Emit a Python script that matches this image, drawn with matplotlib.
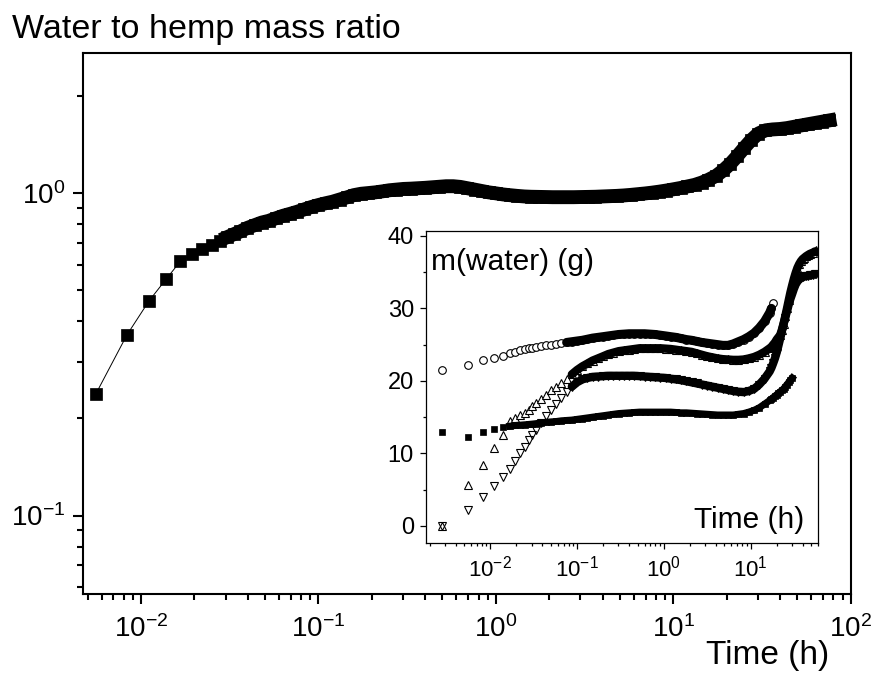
import matplotlib
matplotlib.use("Agg")
import matplotlib.pyplot as plt
from matplotlib.ticker import LogLocator, MultipleLocator, NullFormatter

plt.rcParams['font.family'] = ['Liberation Sans', 'DejaVu Sans']
plt.rcParams['mathtext.fontset'] = 'custom'
plt.rcParams['mathtext.rm'] = 'Liberation Sans'
plt.rcParams['mathtext.it'] = 'Liberation Sans:italic'
plt.rcParams['mathtext.bf'] = 'Liberation Sans:bold'
plt.rcParams['axes.unicode_minus'] = False

# ---------------- main plot data: water to hemp mass ratio ----------------
main_time = [0.00556, 0.00833, 0.0111, 0.0139, 0.0167, 0.0194, 0.0222, 0.025, 0.0278, 0.0306, 0.0333,
             0.0363, 0.0398, 0.0437, 0.0479, 0.0525, 0.0575, 0.0631, 0.0692, 0.0759, 0.0832, 0.0912,
             0.1, 0.110, 0.120, 0.132, 0.145, 0.158, 0.174, 0.191, 0.209, 0.229, 0.251, 0.275, 0.302,
             0.331, 0.363, 0.398, 0.437, 0.479, 0.525, 0.575, 0.631, 0.692, 0.759, 0.832, 0.912,
             1.0, 1.10, 1.20, 1.32, 1.45, 1.58, 1.74, 1.91, 2.09, 2.29, 2.51, 2.75, 3.02, 3.31, 3.63,
             3.98, 4.37, 4.79, 5.25, 5.75, 6.31, 6.92, 7.59, 8.32, 9.12, 10.0, 11.0, 12.0, 13.2, 14.5,
             15.8, 17.4, 19.1, 20.9, 22.9, 25.1, 27.5, 30.2, 33.1, 36.3, 39.8, 43.7, 47.9, 52.5, 57.5,
             63.1, 69.2, 75.9]
main_ratio = [0.238, 0.363, 0.463, 0.542, 0.615, 0.647, 0.67, 0.69, 0.71, 0.73, 0.745,
              0.76, 0.78, 0.795, 0.81, 0.82, 0.835, 0.85, 0.862, 0.875, 0.89, 0.905,
              0.918, 0.93, 0.94, 0.955, 0.97, 0.985, 0.995, 1.0, 1.005, 1.012, 1.02, 1.025, 1.03,
              1.032, 1.035, 1.038, 1.042, 1.046, 1.05, 1.05, 1.045, 1.035, 1.025, 1.015, 1.005,
              0.998, 0.99, 0.985, 0.98, 0.976, 0.974, 0.973, 0.972, 0.971, 0.971, 0.971, 0.971, 0.972, 0.973, 0.974,
              0.976, 0.978, 0.98, 0.983, 0.987, 0.992, 0.997, 1.003, 1.01, 1.018, 1.027, 1.037, 1.048, 1.06, 1.078,
              1.10, 1.13, 1.175, 1.23, 1.30, 1.38, 1.46, 1.53, 1.565, 1.575, 1.58, 1.59, 1.605, 1.62, 1.635,
              1.65, 1.665, 1.68]

# ---------------- inset data: m(water) (g) ----------------
inset_time = [0.00278, 0.00556, 0.00833, 0.0111, 0.0139, 0.0167, 0.0194, 0.0222, 0.025, 0.0278, 0.0306, 0.0333,
              0.038, 0.0437, 0.0501, 0.0575, 0.0661, 0.0759, 0.0871, 0.1, 0.115, 0.132, 0.151, 0.174, 0.2,
              0.229, 0.263, 0.302, 0.347, 0.398, 0.457, 0.525, 0.603, 0.692, 0.794, 0.912, 1.05, 1.20, 1.38,
              1.58, 1.82, 2.09, 2.40, 2.75, 3.16, 3.63, 4.17, 4.79, 5.50, 6.31, 7.24, 8.32, 9.55, 11.0, 12.6,
              14.5, 16.6, 17.4, 18.2, 19.1, 20.0, 20.9, 21.9, 22.9, 24.0, 25.1, 26.3, 27.5, 28.8, 30.2, 31.6,
              33.1, 34.7, 36.3, 38.0, 39.8, 41.7, 43.7, 45.7, 47.9, 50.1, 52.5, 55.0, 57.5]

m_circles = [21.5, 22.2, 22.9, 23.2, 23.5, 23.8, 24.0, 24.2, 24.4, 24.5, 24.6, 24.7,
             24.8, 24.9, 25.0, 25.1, 25.2, 25.3, 25.4, 25.5, 25.6, 25.75, 25.9, 26.0, 26.1,
             26.2, 26.3, 26.4, 26.45, 26.5, 26.5, 26.5, 26.5, 26.45, 26.4, 26.3, 26.2, 26.1, 26.0,
             25.85, 25.7, 25.6, 25.45, 25.3, 25.2, 25.1, 25.0, 24.9, 24.9, 25.1, 25.4, 25.7, 26.1, 26.6, 27.3,
             28.2, 29.4, 30.0, 30.8]

m_squares = [13.0, 12.3, 12.9, 13.3, 13.6, 13.75, 13.85, 13.9, 13.95, 14.0, 14.05, 14.1,
             14.2, 14.3, 14.35, 14.4, 14.5, 14.55, 14.6, 14.7, 14.8, 14.9, 15.0, 15.1, 15.2,
             15.3, 15.4, 15.5, 15.55, 15.6, 15.65, 15.7, 15.7, 15.7, 15.7, 15.7, 15.7, 15.7, 15.65,
             15.6, 15.6, 15.55, 15.5, 15.45, 15.4, 15.35, 15.3, 15.3, 15.3, 15.3, 15.4, 15.5, 15.7, 15.95, 16.3,
             16.8, 17.3, 17.5, 17.7, 17.9, 18.1, 18.3, 18.5, 18.7, 18.9, 19.2, 19.5, 19.8, 20.1, 20.4]

m_up = [0.0, 5.65, 8.4, 10.8, 12.5, 14.4, 14.9, 15.3, 15.6, 16.0, 16.5, 16.9,
        17.5, 18.1, 18.7, 19.2, 19.7, 20.3, 20.9, 21.5, 22.0, 22.4, 22.8, 23.1, 23.4,
        23.7, 23.9, 24.1, 24.2, 24.3, 24.4, 24.5, 24.5, 24.5, 24.5, 24.5, 24.45, 24.4, 24.3,
        24.2, 24.1, 24.0, 23.8, 23.6, 23.4, 23.25, 23.1, 23.0, 22.95, 22.9, 22.9, 22.95, 23.1, 23.3, 23.6,
        24.0, 24.5, 24.7, 25.0, 25.3, 25.7, 26.0, 26.3, 27.0, 27.9, 28.9, 30.0, 31.1, 32.2, 33.2, 34.1,
        34.9, 35.6, 36.1, 36.5, 36.8, 37.0, 37.2, 37.35, 37.5, 37.6, 37.7, 37.85, 38.0]

m_down = [0.0, 2.2, 4.0, 5.5, 6.7, 7.9, 9.0, 10.0, 10.9, 11.8, 12.5, 13.2,
          14.2, 15.2, 16.0, 16.8, 17.6, 18.4, 19.2, 19.8, 20.2, 20.4, 20.55, 20.6, 20.65,
          20.7, 20.7, 20.7, 20.7, 20.7, 20.7, 20.65, 20.6, 20.55, 20.5, 20.45, 20.4, 20.3, 20.2,
          20.1, 19.95, 19.8, 19.65, 19.5, 19.35, 19.2, 19.05, 18.9, 18.75, 18.6, 18.5, 18.45, 18.6, 18.9, 19.5,
          20.3, 21.3, 21.8, 22.4, 23.1, 23.9, 24.8, 25.8, 26.8, 27.8, 28.7, 29.6, 30.5, 31.3, 32.0, 32.7,
          33.3, 33.7, 34.0, 34.2, 34.3, 34.4, 34.45, 34.5, 34.55, 34.6, 34.65, 34.7, 34.75]

title_text = "Water to hemp mass ratio"
xlabel_text = "Time (h)"
inset_ylabel_text = "m(water) (g)"
inset_xlabel_text = "Time (h)"

fig = plt.figure(figsize=(8.74, 6.75), dpi=100)

# ---------------- main axes ----------------
ax = fig.add_axes([0.0953, 0.1196, 0.878, 0.802])
ax.plot(main_time, main_ratio, color='black', lw=0.7, marker='s', ms=8, mfc='black', mec='black', mew=0.5)
# dense part of the record: overlapping squares form a solid band
ax.plot(main_time[9:], main_ratio[9:], color='black', lw=10, solid_capstyle='projecting',
        solid_joinstyle='round')
ax.set_xscale('log')
ax.set_yscale('log')
ax.set_xlim(0.00473, 100)
ax.set_ylim(0.057, 2.72)
for s in ax.spines.values():
    s.set_linewidth(1.5)
ax.xaxis.set_major_locator(LogLocator(base=10, numticks=20))
ax.xaxis.set_minor_locator(LogLocator(base=10, subs=[2, 3, 4, 5, 6, 7, 8, 9], numticks=20))
ax.yaxis.set_major_locator(LogLocator(base=10, numticks=20))
ax.yaxis.set_minor_locator(LogLocator(base=10, subs=[2, 3, 4, 5, 6, 7, 8, 9], numticks=20))
ax.xaxis.set_minor_formatter(NullFormatter())
ax.yaxis.set_minor_formatter(NullFormatter())
ax.tick_params(which='major', direction='out', length=7, width=1.5, labelsize=20, pad=6)
ax.tick_params(axis='x', which='major', pad=8)
ax.tick_params(which='minor', direction='out', length=4, width=1.5)
ax.tick_params(top=False, right=False)

fig.text(0.0137, 0.943, title_text, fontsize=24.5, ha='left', va='baseline')
fig.text(0.949, 0.0163, xlabel_text, fontsize=24, ha='right', va='baseline')

# ---------------- inset axes ----------------
axi = fig.add_axes([0.487, 0.1951, 0.449, 0.463])
axi.set_facecolor('white')
axi.plot(inset_time[:len(m_circles)], m_circles, ls='none', marker='o', ms=5.5, mfc='white', mec='black', mew=0.8)
axi.plot(inset_time[17:len(m_circles) - 1], m_circles[17:-1], color='black', lw=6.5,
         solid_capstyle='round', solid_joinstyle='round')
axi.plot(inset_time[:len(m_up)], m_up, ls='none', marker='^', ms=6, mfc='white', mec='black', mew=0.8)
axi.plot(inset_time[18:len(m_up) - 1], m_up[18:-1], color='black', lw=6,
         solid_capstyle='round', solid_joinstyle='round')
axi.plot(inset_time[:len(m_down)], m_down, ls='none', marker='v', ms=6, mfc='none', mec='black', mew=0.8)
axi.plot(inset_time[18:len(m_down) - 1], m_down[18:-1], color='black', lw=6,
         solid_capstyle='round', solid_joinstyle='round')
axi.plot(inset_time[:len(m_squares)], m_squares, ls='none', marker='s', ms=5, mfc='black', mec='black', mew=0.5)
axi.plot(inset_time[5:len(m_squares)], m_squares[5:], color='black', lw=5,
         solid_capstyle='projecting', solid_joinstyle='round')
axi.set_xscale('log')
axi.set_xlim(0.0018, 60)
axi.set_ylim(-2.4, 40.7)
for s in axi.spines.values():
    s.set_linewidth(0.9)
axi.xaxis.set_major_locator(LogLocator(base=10, numticks=20))
axi.xaxis.set_minor_locator(LogLocator(base=10, subs=[2, 3, 4, 5, 6, 7, 8, 9], numticks=20))
axi.xaxis.set_minor_formatter(NullFormatter())
axi.yaxis.set_major_locator(MultipleLocator(10))
axi.yaxis.set_minor_locator(MultipleLocator(5))
axi.tick_params(which='major', direction='out', length=4.5, width=0.9, labelsize=16, pad=4)
axi.tick_params(axis='y', which='major', labelsize=17)
axi.tick_params(which='minor', direction='out', length=2.5, width=0.9)
axi.tick_params(top=False, right=False)

axi.text(0.0135, 0.874, inset_ylabel_text, transform=axi.transAxes, fontsize=21.5, ha='left', va='baseline')
axi.text(0.966, 0.049, inset_xlabel_text, transform=axi.transAxes, fontsize=21.5, ha='right', va='baseline')

fig.savefig("out.png", dpi=100)
